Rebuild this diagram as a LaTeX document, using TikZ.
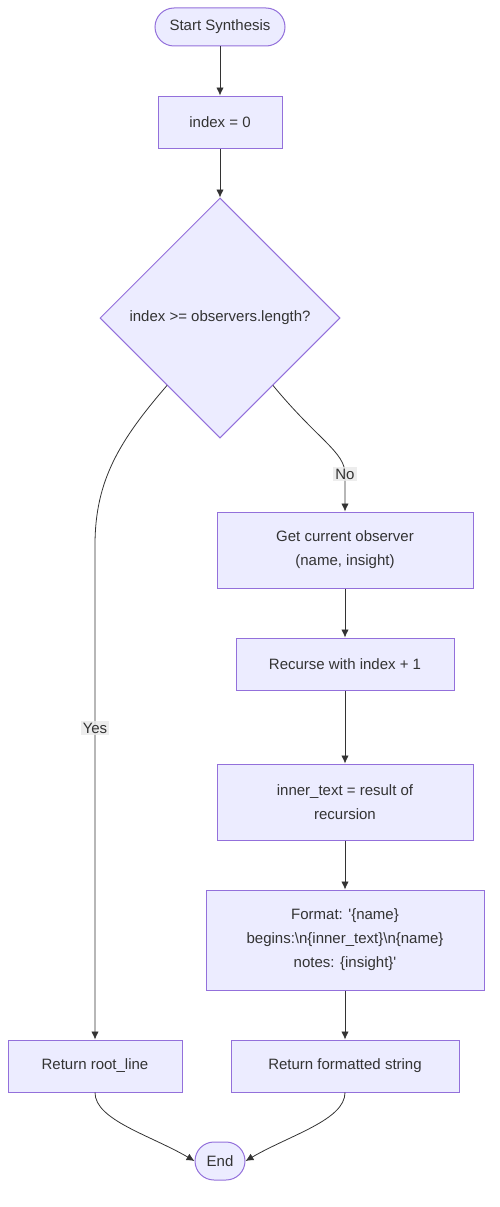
\documentclass[tikz,border=0pt]{standalone}
\usepackage{fontspec}
\setmainfont{Liberation Sans}
\usetikzlibrary{calc, shapes.geometric}
\usetikzlibrary{arrows.meta}
\tikzset{>={Latex[width=2.6mm,length=2.8mm]}}
\usepackage{color}
\definecolor{boxFill}{HTML}{ECECFF}
\definecolor{boxLine}{HTML}{9370DB}
\definecolor{textGrey}{HTML}{333333}
\definecolor{labelFill}{HTML}{E8E8E8}

\begin{document}
\begin{tikzpicture}[
    x = 1pt, y = -1pt,
    font = \fontsize{15}{24}\selectfont,
    text = textGrey,
    box/.style = {draw=boxLine, fill=boxFill, line width=1pt,
        align=center, inner sep=0pt, minimum height=52pt},
    term/.style = {box, rounded corners=19pt, minimum height=38pt},
    check/.style = {draw=boxLine, fill=boxFill, line width=1pt,
        diamond, aspect=1, minimum size=240pt, inner sep=0pt},
    flow/.style = {->, draw=textGrey, line width=0.8pt},
    lbl/.style = {fill=labelFill, fill opacity=0.8, text opacity=1,
        inner sep=2pt}
  ]
  \useasboundingbox (0,0) rectangle (500,1207);

  \node[term, minimum width=130pt] (START) at (220,27) {Start Synthesis};
  \node[box, minimum width=124pt] (INIT) at (220,122) {index = 0};
  \node[check] (CHECK) at (220,318) {index >= observers.length?};
  \node[box, minimum width=256pt, minimum height=76pt] (GET) at (345,550)
    {Get current observer\\(name, insight)};
  \node[box, minimum width=218pt] (RECURSE) at (345,664) {Recurse with index + 1};
  \node[box, minimum width=256pt, minimum height=76pt] (INNER) at (345,802)
    {inner\_text = result of\\recursion};
  \node[box, minimum width=278pt, minimum height=100pt] (FORMAT) at (345,940)
    {Format: \textquotesingle\{name\}\\begins:\textbackslash n\{inner\_text\}\textbackslash n\{name\}\\notes: \{insight\}\textquotesingle};
  \node[box, minimum width=174pt] (RETROOT) at (95,1066) {Return root\_line};
  \node[box, minimum width=228pt] (RETFMT) at (345,1066) {Return formatted string};
  \node[term, minimum width=50pt] (END) at (220,1161) {End};

  \draw[flow] (START) -- (INIT);
  \draw[flow] (INIT) -- (CHECK);
  \draw[flow] ($(CHECK.west)!0.56!(CHECK.south)$)
    .. controls (120,440) and (95,480) .. (95,545)
    -- node[lbl, pos=0.37] {Yes} (RETROOT.north);
  \draw[flow] ($(CHECK.east)!0.56!(CHECK.south)$)
    .. controls (318,440) and (345,452) .. (345,474)
    -- node[lbl, pos=0] {No} (GET.north);
  \draw[flow] (GET) -- (RECURSE);
  \draw[flow] (RECURSE) -- (INNER);
  \draw[flow] (INNER) -- (FORMAT);
  \draw[flow] (FORMAT) -- (RETFMT);
  \draw[flow] (RETROOT.south) .. controls (95,1120) and (150,1135) .. (END.west);
  \draw[flow] (RETFMT.south) .. controls (345,1120) and (290,1135) .. (END.east);
\end{tikzpicture}
\end{document}
